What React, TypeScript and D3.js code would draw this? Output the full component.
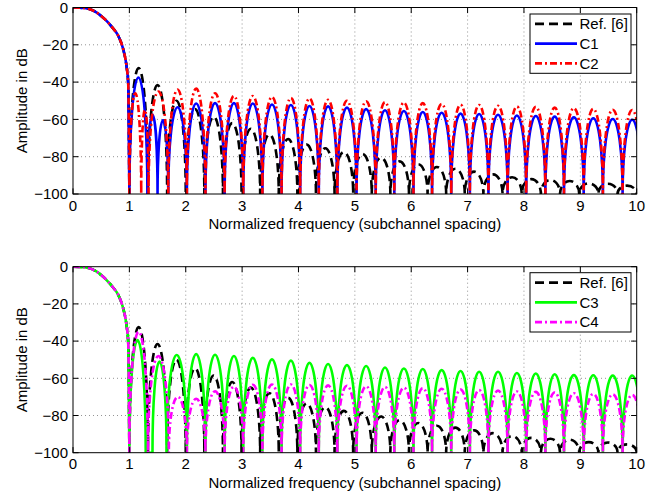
import React, { useEffect, useRef } from 'react';
import * as d3 from 'd3';

// main lobe, shared by every prototype (normalized freq / dB)
const mainFreq = [0, 0.1, 0.2, 0.3, 0.4, 0.5, 0.6, 0.7, 0.8, 0.85, 0.9, 0.95, 0.98, 1.0];
const mainDb = [0, -0.1, -0.3, -0.9, -2.3, -4.5, -7.3, -10.8, -15, -18.5, -23.5, -31.5, -41, -100];

// side lobes: null positions, and the peak (dB) of each lobe between two nulls
const refNulls = [1.0, 1.33, 1.67, 2.0, 2.33, 2.66, 2.99, 3.32, 3.65, 3.98, 4.31, 4.64, 4.97, 5.30,
  5.63, 5.96, 6.29, 6.62, 6.95, 7.28, 7.62, 7.96, 8.30, 8.64, 8.98, 9.32, 9.66, 10.0];
const refPeaks = [-32.5, -41.5, -50, -54.5, -58.5, -62, -65, -68, -70.5, -73.5, -75.5, -77.5, -78.5,
  -80.5, -82.5, -84, -85.5, -86.5, -88, -89.5, -91, -92, -92.5, -93, -94.3, -94.5, -95.5];

const c1Nulls = [1.0, 1.32, 1.50, 1.69, 2.02, 2.35, 2.69, 3.02, 3.36, 3.70, 4.03, 4.36, 4.69, 5.03,
  5.37, 5.70, 6.04, 6.37, 6.71, 7.04, 7.37, 7.71, 8.04, 8.38, 8.71, 9.06, 9.40, 9.75, 10.09];
const c1Peaks = [-37.5, -57.5, -60.5, -53.5, -51.5, -51.3, -51.3, -51.5, -52, -52.3, -52.7, -53, -53.7,
  -54.5, -55, -55.5, -56, -56.4, -56.8, -57.1, -57.5, -57.8, -58.2, -58.5, -58.9, -59.3, -59.7, -60.2];

const c2Nulls = [1.0, 1.21, 1.34, 1.69, 2.02, 2.35, 2.69, 3.02, 3.36, 3.70, 4.03, 4.36, 4.69, 5.03,
  5.37, 5.70, 6.04, 6.37, 6.71, 7.04, 7.37, 7.71, 8.04, 8.38, 8.71, 9.06, 9.40, 9.75, 10.09];
const c2Peaks = [-46, -55, -45, -44, -43.5, -46, -47.5, -47.5, -48, -48.5, -48.7, -49.5, -50, -50.3,
  -50.7, -51, -51.3, -51.7, -52, -52.3, -52.7, -53, -53.3, -53.7, -54, -54.3, -54.7, -55];

const c3Nulls = [1.0, 1.29, 1.41, 1.66, 2.02, 2.35, 2.69, 3.02, 3.36, 3.70, 4.03, 4.36, 4.69, 5.03,
  5.37, 5.70, 6.04, 6.37, 6.71, 7.04, 7.37, 7.71, 8.04, 8.38, 8.71, 9.06, 9.40, 9.75, 10.09];
const c3Peaks = [-39.5, -100, -51, -47.5, -47, -47.3, -48, -49, -49.8, -50.5, -51.6, -52.3, -52.9,
  -53.4, -54.1, -54.7, -55, -55.6, -56, -56.5, -56.5, -57.1, -57.4, -57.8, -58.3, -58.3, -58.5, -58.5];

const c4Nulls = [1.0, 1.33, 1.70, 2.02, 2.35, 2.69, 3.02, 3.36, 3.70, 4.03, 4.36, 4.69, 5.03,
  5.37, 5.70, 6.04, 6.37, 6.71, 7.04, 7.37, 7.71, 8.04, 8.38, 8.71, 9.06, 9.40, 9.75, 10.09];
const c4Peaks = [-35, -48, -70, -71, -67, -64.5, -63.5, -63.3, -63.3, -63.5, -63.8, -64, -64.3,
  -64.6, -65, -65.3, -65.6, -66, -66.3, -66.6, -67, -67.3, -67.6, -68, -68.3, -68.6, -69];

const xTicks = [0, 1, 2, 3, 4, 5, 6, 7, 8, 9, 10];
const yTicks = [0, -20, -40, -60, -80, -100];

const FONT = 'Liberation Sans, Arial, Helvetica, sans-serif';

const panels = [
  {
    id: 'top', top: 7.5, bottom: 194, legendTop: 14, legendBottom: 73.3,
    series: [
      { label: 'Ref. [6]', nulls: refNulls, peaks: refPeaks, color: '#000000', dash: '9,5' },
      { label: 'C1', nulls: c1Nulls, peaks: c1Peaks, color: '#0000ff', dash: null },
      { label: 'C2', nulls: c2Nulls, peaks: c2Peaks, color: '#ff0000', dash: '7,3,2,3' },
    ],
  },
  {
    id: 'bot', top: 266.7, bottom: 452.7, legendTop: 272.7, legendBottom: 332,
    series: [
      { label: 'Ref. [6]', nulls: refNulls, peaks: refPeaks, color: '#000000', dash: '9,5' },
      { label: 'C3', nulls: c3Nulls, peaks: c3Peaks, color: '#00ff00', dash: null },
      { label: 'C4', nulls: c4Nulls, peaks: c4Peaks, color: '#ff00ff', dash: '7,3,2,3' },
    ],
  },
];

function App() {
  const svgRef = useRef(null);

  useEffect(() => {
    const svg = d3.select(svgRef.current);
    svg.selectAll('*').remove();
    const left = 73, right = 636.7;

    panels.forEach(panel => {
      const x = d3.scaleLinear().domain([0, 10]).range([left, right]);
      const y = d3.scaleLinear().domain([-100, 0]).range([panel.bottom, panel.top]);
      const g = svg.append('g');

      g.append('clipPath').attr('id', 'clip-' + panel.id)
        .append('rect')
        .attr('x', left).attr('y', panel.top)
        .attr('width', right - left).attr('height', panel.bottom - panel.top);

      // grid
      g.selectAll('.gx').data(xTicks.slice(1, -1)).join('line')
        .attr('x1', d => x(d)).attr('x2', d => x(d))
        .attr('y1', panel.top).attr('y2', panel.bottom)
        .attr('stroke', '#666').attr('stroke-width', 0.7).attr('stroke-dasharray', '1,3');
      g.selectAll('.gy').data(yTicks.slice(1, -1)).join('line')
        .attr('y1', d => y(d)).attr('y2', d => y(d))
        .attr('x1', left).attr('x2', right)
        .attr('stroke', '#666').attr('stroke-width', 0.7).attr('stroke-dasharray', '1,3');

      // curves: main lobe as a line, each side lobe as an arch between its nulls
      const line = d3.line().x(d => x(d[0])).y(d => y(d[1])).curve(d3.curveMonotoneX);
      const curves = g.append('g').attr('clip-path', `url(#clip-${panel.id})`);
      const yb = y(-100);
      panel.series.forEach(s => {
        let p = line(d3.zip(mainFreq, mainDb));
        s.peaks.forEach((pk, i) => {
          const x0 = x(s.nulls[i]), x1 = x(s.nulls[i + 1]);
          p += `A${(x1 - x0) / 2},${yb - y(pk)} 0 0 1 ${x1},${yb}`;
        });
        curves.append('path')
          .attr('d', p)
          .attr('fill', 'none')
          .attr('stroke', s.color)
          .attr('stroke-width', 2.6)
          .attr('stroke-dasharray', s.dash);
      });

      // box + ticks
      g.append('rect')
        .attr('x', left).attr('y', panel.top)
        .attr('width', right - left).attr('height', panel.bottom - panel.top)
        .attr('fill', 'none').attr('stroke', '#000').attr('stroke-width', 1);
      const tl = 5.6;
      xTicks.forEach(t => {
        g.append('line').attr('x1', x(t)).attr('x2', x(t)).attr('y1', panel.bottom).attr('y2', panel.bottom - tl).attr('stroke', '#000');
        g.append('line').attr('x1', x(t)).attr('x2', x(t)).attr('y1', panel.top).attr('y2', panel.top + tl).attr('stroke', '#000');
      });
      yTicks.forEach(t => {
        g.append('line').attr('y1', y(t)).attr('y2', y(t)).attr('x1', left).attr('x2', left + tl).attr('stroke', '#000');
        g.append('line').attr('y1', y(t)).attr('y2', y(t)).attr('x1', right).attr('x2', right - tl).attr('stroke', '#000');
      });

      // tick labels
      g.selectAll('.xl').data(xTicks).join('text')
        .attr('x', d => x(d)).attr('y', panel.bottom + 16.7)
        .attr('text-anchor', 'middle')
        .attr('font-family', FONT).attr('font-size', 15)
        .text(d => String(d));
      g.selectAll('.yl').data(yTicks).join('text')
        .attr('x', left - 5).attr('y', d => y(d) + 5.3)
        .attr('text-anchor', 'end')
        .attr('font-family', FONT).attr('font-size', 15)
        .text(d => (d < 0 ? '\u2212' + Math.abs(d) : String(d)));

      // axis labels
      g.append('text')
        .attr('x', (left + right) / 2).attr('y', panel.bottom + 35)
        .attr('text-anchor', 'middle')
        .attr('font-family', FONT).attr('font-size', 15)
        .text('Normalized frequency (subchannel spacing)');
      g.append('text')
        .attr('transform', `translate(27,${(panel.top + panel.bottom) / 2}) rotate(-90)`)
        .attr('text-anchor', 'middle')
        .attr('font-family', FONT).attr('font-size', 15)
        .text('Amplitude in dB');

      // legend
      const lg = g.append('g');
      lg.append('rect')
        .attr('x', 530).attr('y', panel.legendTop)
        .attr('width', 101).attr('height', panel.legendBottom - panel.legendTop)
        .attr('fill', '#fff').attr('stroke', '#000').attr('stroke-width', 1);
      const rowH = (panel.legendBottom - panel.legendTop) / 3;
      panel.series.forEach((s, i) => {
        const cy = panel.legendTop + rowH * (i + 0.5);
        lg.append('line')
          .attr('x1', 535).attr('x2', 577).attr('y1', cy).attr('y2', cy)
          .attr('stroke', s.color).attr('stroke-width', 2.6)
          .attr('stroke-dasharray', s.dash);
        lg.append('text')
          .attr('x', 579.5).attr('y', cy + 5.3)
          .attr('font-family', FONT).attr('font-size', 15)
          .text(s.label);
      });
    });
  }, []);

  return (
    <svg ref={svgRef} width={666} height={497}
      style={{ position: 'absolute', left: 0, top: 0, background: '#fff' }} />
  );
}

export default App;
